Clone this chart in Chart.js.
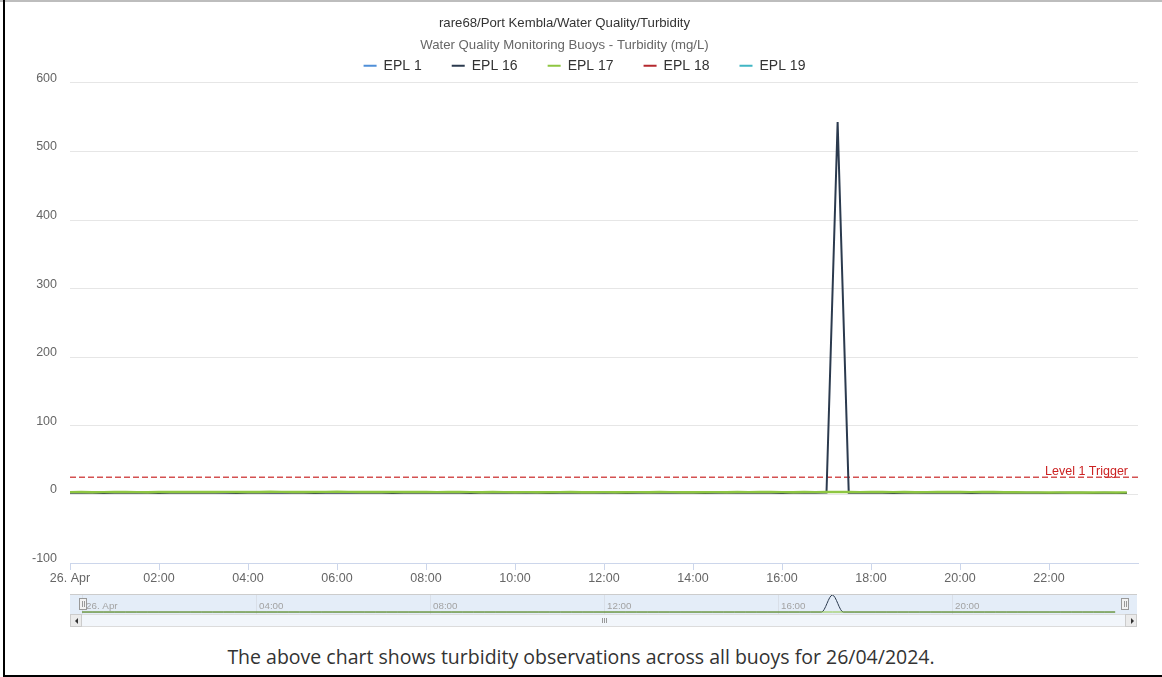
<!DOCTYPE html>
<html>
<head>
<meta charset="utf-8">
<title>Turbidity</title>
<script src="https://cdn.jsdelivr.net/npm/chart.js@4.4.1/dist/chart.umd.min.js"></script>
<style>
  html, body { margin:0; padding:0; background:#fff; overflow:hidden; }
  body { width:1162px; height:677px; position:relative; font-family:"Liberation Sans", Arial, sans-serif; }
  .abs { position:absolute; box-sizing:border-box; }
  #mainWrap { left:0; top:0; width:1162px; height:590px; }
  #navWrap { left:70px; top:594px; width:1067px; height:20px; background:#e4edf8; border-top:1px solid #cccccc; }
  .handle { top:598px; width:8px; height:12px; background:#f2f2f2; border:1px solid #999; }
  .handle::before, .handle::after { content:''; position:absolute; top:2px; width:1px; height:6px; background:#999; }
  .handle::before { left:2px; } .handle::after { left:4px; }
  #scroll { left:70px; top:614px; width:1067px; height:13px; background:#f2f6fb; border:1px solid #dcdcdc; }
  .sbtn { top:614px; width:12px; height:13px; background:#ebebeb; border:1px solid #cccccc; }
  .arrow { position:absolute; top:3px; width:0; height:0; border-top:3px solid transparent; border-bottom:3px solid transparent; }
  .grip { top:618px; width:1px; height:5px; background:#999; }
  #caption { left:0; top:646px; width:1162px; height:22px; line-height:22px; text-align:center;
             font-family:"Open Sans", sans-serif; font-size:19.5px; color:#333; }
</style>
</head>
<body>
<div class="abs" style="left:0;top:0;width:1162px;height:2px;background:#bdbdbd;"></div>
<div class="abs" style="left:3px;top:0;width:2px;height:677px;background:#000;"></div>
<div class="abs" style="left:3px;top:675px;width:1159px;height:2px;background:#000;"></div>

<div class="abs" id="mainWrap"><canvas id="turbChart"></canvas></div>
<div class="abs" id="navWrap"><canvas id="navChart"></canvas></div>
<div class="abs handle" style="left:79px;"></div>
<div class="abs handle" style="left:1121px;"></div>
<div class="abs" id="scroll"></div>
<div class="abs sbtn" style="left:70px;"><div class="arrow" style="left:4px;border-right:3px solid #333;"></div></div>
<div class="abs sbtn" style="left:1125px;"><div class="arrow" style="left:5px;border-left:3px solid #333;"></div></div>
<div class="abs grip" style="left:602px;"></div>
<div class="abs grip" style="left:604px;"></div>
<div class="abs grip" style="left:606px;"></div>
<div class="abs" id="caption">The above chart shows turbidity observations across all buoys for 26/04/2024.</div>

<script>
/* ---- Data (15 min readings on 26/04/2024) ---- */
const titleText = 'rare68/Port Kembla/Water Quality/Turbidity';
const subtitleText = 'Water Quality Monitoring Buoys - Turbidity (mg/L)';
const dayLabel = '26. Apr';
const seriesNames = ['EPL 1', 'EPL 16', 'EPL 17', 'EPL 18', 'EPL 19'];
const seriesColors = ['#4f8fd8', '#2b3a4e', '#8ec641', '#b5282e', '#41b6c4'];
const times = [
  '00:00','00:15','00:30','00:45','01:00','01:15','01:30','01:45',
  '02:00','02:15','02:30','02:45','03:00','03:15','03:30','03:45',
  '04:00','04:15','04:30','04:45','05:00','05:15','05:30','05:45',
  '06:00','06:15','06:30','06:45','07:00','07:15','07:30','07:45',
  '08:00','08:15','08:30','08:45','09:00','09:15','09:30','09:45',
  '10:00','10:15','10:30','10:45','11:00','11:15','11:30','11:45',
  '12:00','12:15','12:30','12:45','13:00','13:15','13:30','13:45',
  '14:00','14:15','14:30','14:45','15:00','15:15','15:30','15:45',
  '16:00','16:15','16:30','16:45','17:00','17:15','17:30','17:45',
  '18:00','18:15','18:30','18:45','19:00','19:15','19:30','19:45',
  '20:00','20:15','20:30','20:45','21:00','21:15','21:30','21:45',
  '22:00','22:15','22:30','22:45','23:00','23:15','23:30','23:45'
];
const epl1 = [];
const epl16 = [
  2.3,2.4,2.3,2.2,2.4,2.5,2.3,2.4, 2.2,2.3,2.4,2.3,2.5,2.4,2.3,2.2,
  2.4,2.3,2.5,2.4,2.3,2.4,2.2,2.3, 2.4,2.5,2.3,2.4,2.3,2.2,2.4,2.3,
  2.5,2.4,2.3,2.4,2.2,2.3,2.4,2.5, 2.3,2.4,2.3,2.2,2.4,2.3,2.5,2.4,
  2.3,2.4,2.2,2.3,2.4,2.5,2.3,2.4, 2.3,2.2,2.4,2.3,2.5,2.4,2.3,2.4,
  2.2,2.3,2.4,2.5,2.6,543,2.5,2.4, 2.3,2.4,2.2,2.3,2.4,2.3,2.5,2.4,
  2.3,2.2,2.4,2.3,2.4,2.5,2.3,2.4, 2.2,2.3,2.4,2.3,2.2,2.3,2.1,2.2
];
const epl17 = [
  3.3,3.4,3.2,3.3,3.5,3.4,3.3,3.2, 3.4,3.5,3.6,3.5,3.4,3.6,3.7,3.6,
  3.5,3.6,3.8,3.7,3.6,3.5,3.6,3.7, 3.8,3.7,3.6,3.5,3.6,3.4,3.5,3.6,
  3.4,3.3,3.4,3.5,3.3,3.2,3.4,3.3, 3.2,3.3,3.1,3.2,3.3,3.4,3.2,3.1,
  3.3,3.2,3.1,3.3,3.2,3.4,3.3,3.2, 3.1,3.2,3.3,3.2,3.4,3.3,3.5,3.4,
  3.3,3.2,3.4,3.3,3.5,3.6,3.4,3.3, 3.5,3.4,3.3,3.4,3.2,3.3,3.4,3.5,
  3.4,3.3,3.5,3.4,3.2,3.1,3.0,2.9, 2.8,2.9,2.8,2.7,2.8,2.9,2.8,2.9
];
const epl18 = [];
const epl19 = [];
const yTicks = { min: -100, max: 600, step: 100 };
const xHours = { min: 0, max: 24, step: 2, navStep: 4 };
const triggerLevel = 25;
const triggerLabel = 'Level 1 Trigger';

const FONT = '"Liberation Sans", Arial, sans-serif';
Chart.defaults.font.family = FONT;

function toHours(t){ const [h, m] = t.split(':').map(Number); return h + m / 60; }
function toPoints(vals){ return vals.map((v, i) => ({ x: toHours(times[i]), y: v })); }
function hourLabel(v){ return v === 0 ? dayLabel : String(v).padStart(2, '0') + ':00'; }

const seriesValues = [epl1, epl16, epl17, epl18, epl19];
const drawOrder = [4, 1, 0, 3, 2];   // EPL 17 sits over EPL 16 like the original

const datasets = seriesNames.map((name, i) => ({
  label: name,
  data: toPoints(seriesValues[i]),
  borderColor: seriesColors[i],
  backgroundColor: seriesColors[i],
  borderWidth: i === 2 ? 2.4 : 2,
  pointRadius: 0,
  order: drawOrder[i]
}));
datasets.push({
  label: triggerLabel,
  data: [{ x: xHours.min, y: triggerLevel }, { x: xHours.max, y: triggerLevel }],
  borderColor: 'rgba(204,51,51,0.85)',
  borderWidth: 1.3,
  borderDash: [6, 3],
  pointRadius: 0,
  order: 5
});

/* ---- plugins ---- */
const titleShift = {
  id: 'titleShift',
  afterLayout(chart){
    chart.boxes.forEach(b => {
      if (b.options && (b.options.text === titleText || b.options.text === subtitleText)) { b.left -= 20; b.right -= 20; }
    });
  }
};
// y labels sit just above their grid line, like Highcharts does it
const yLabels = {
  id: 'yLabels',
  afterDraw(chart){
    const sy = chart.scales.y, ctx = chart.ctx;
    ctx.save();
    ctx.font = '12.5px ' + FONT;
    ctx.fillStyle = '#666666';
    ctx.textAlign = 'right';
    ctx.textBaseline = 'middle';
    sy.ticks.forEach(t => ctx.fillText(String(t.value), chart.chartArea.left - 13, sy.getPixelForValue(t.value) - 4.5));
    ctx.restore();
  }
};
const triggerText = {
  id: 'triggerText',
  afterDatasetsDraw(chart){
    const y = chart.scales.y.getPixelForValue(triggerLevel);
    const ctx = chart.ctx;
    ctx.save();
    ctx.font = '12.5px ' + FONT;
    ctx.fillStyle = '#cc2222';
    ctx.textAlign = 'right';
    ctx.textBaseline = 'alphabetic';
    ctx.fillText(triggerLabel, chart.chartArea.right - 10, y - 2.5);
    ctx.restore();
  }
};

new Chart(document.getElementById('turbChart'), {
  type: 'line',
  data: { datasets },
  plugins: [titleShift, yLabels, triggerText],
  options: {
    responsive: true, maintainAspectRatio: false, animation: false,
    layout: { padding: { left: 31, right: 24, top: 0, bottom: 0 } },
    plugins: {
      tooltip: { enabled: false },
      title: { display: true, text: titleText, color: '#333333', font: { size: 13.2, weight: 'normal' }, padding: { top: 15, bottom: -2 } },
      subtitle: { display: true, text: subtitleText, color: '#666666', font: { size: 13.2 }, padding: { top: 8.24, bottom: -24.08 } },
      legend: {
        labels: {
          color: '#333333', font: { size: 14 }, boxWidth: 13, boxHeight: 2, padding: 30,
          filter: item => item.text !== triggerLabel,
          generateLabels: chart => Chart.defaults.plugins.legend.labels.generateLabels(chart)
            .map(l => Object.assign(l, { fillStyle: seriesColors[l.datasetIndex] || l.strokeStyle, lineWidth: 0, lineDash: [] }))
            .sort((a, b) => a.datasetIndex - b.datasetIndex)
        }
      }
    },
    scales: {
      x: {
        type: 'linear', min: xHours.min, max: xHours.max,
        afterBuildTicks: s => { s.ticks = s.ticks.filter(t => t.value < xHours.max); },
        afterFit: s => { s.height = 27; },
        ticks: { stepSize: xHours.step, color: '#666666', font: { size: 12.5 }, padding: 1.5, maxRotation: 0, callback: v => hourLabel(v) },
        grid: { drawOnChartArea: false, drawTicks: true, tickLength: 7, color: '#ccd6eb' },
        border: { display: true, color: '#ccd6eb' }
      },
      y: {
        min: yTicks.min, max: yTicks.max,
        afterFit: s => { s.width = 39; },
        ticks: { stepSize: yTicks.step, display: false },
        grid: { color: '#e6e6e6', drawTicks: false },
        border: { display: false }
      }
    }
  }
});

/* ---- navigator strip ---- */
const navLabels = {
  id: 'navLabels',
  afterDraw(chart){
    const sx = chart.scales.x, ctx = chart.ctx;
    ctx.save();
    ctx.font = '9.8px ' + FONT;
    ctx.fillStyle = '#a3a3a3';
    ctx.textBaseline = 'middle';
    sx.ticks.forEach(t => ctx.fillText(hourLabel(t.value), sx.getPixelForValue(t.value) + (t.value === 0 ? 4 : 3), chart.chartArea.top + 11));
    ctx.restore();
  }
};
new Chart(document.getElementById('navChart'), {
  type: 'line',
  data: { datasets: [
    { data: toPoints(epl17), borderColor: seriesColors[2], borderWidth: 1, pointRadius: 0, order: 0 },
    { data: toPoints(epl16), borderColor: seriesColors[1], borderWidth: 1, pointRadius: 0, cubicInterpolationMode: 'monotone', order: 1 }
  ] },
  plugins: [navLabels],
  options: {
    responsive: true, maintainAspectRatio: false, animation: false,
    layout: { padding: { left: 12, right: 11, top: 0, bottom: 0 } },
    plugins: { legend: { display: false }, tooltip: { enabled: false } },
    scales: {
      x: {
        type: 'linear', min: xHours.min, max: xHours.max,
        afterBuildTicks: s => { s.ticks = s.ticks.filter(t => t.value < xHours.max); },
        afterFit: s => { s.height = 0; },
        ticks: { display: false, stepSize: xHours.navStep },
        grid: { color: '#d9dfe8', drawTicks: false },
        border: { display: false }
      },
      y: { display: false, min: -60, max: 545 }
    }
  }
});
</script>
</body>
</html>
